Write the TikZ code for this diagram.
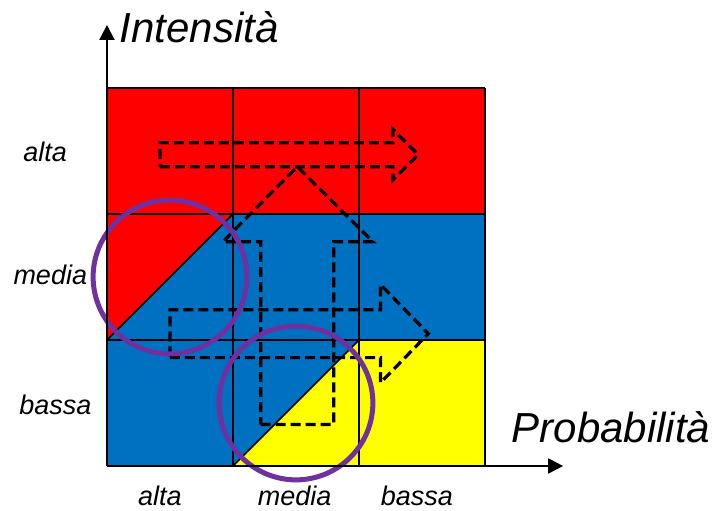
\documentclass[tikz,border=0pt]{standalone}
\usepackage{fontspec}
\setmainfont{Liberation Sans}
\usetikzlibrary{arrows.meta}
\definecolor{rred}{HTML}{FF0000}
\definecolor{rblue}{HTML}{0070C0}
\definecolor{ryellow}{HTML}{FFFF00}
\definecolor{rpurple}{HTML}{7030A0}

\begin{document}
\begin{tikzpicture}[x=126pt, y=126pt,
  lvl/.style={font=\fontsize{27}{30}\selectfont\itshape, anchor=base, inner sep=0pt},
  axlbl/.style={font=\fontsize{42}{46}\selectfont\itshape, anchor=base west, inner sep=0pt},
  dasharrow/.style={black, line width=3.2pt, dash pattern=on 10pt off 5pt},
  ring/.style={rpurple, line width=5pt}]
\useasboundingbox (-0.849,-0.357) rectangle (4.833,3.698);
% risk cells
\fill[rred] (0,2) rectangle (3,3);
\fill[rblue] (1,1) rectangle (3,2);
\fill[rred] (0,1) -- (0,2) -- (1,2) -- cycle;
\fill[rblue] (0,1) -- (1,1) -- (1,2) -- cycle;
\fill[rblue] (0,0) rectangle (1,1);
\fill[rblue] (1,0) -- (1,1) -- (2,1) -- cycle;
\fill[ryellow] (1,0) -- (2,0) -- (2,1) -- cycle;
\fill[ryellow] (2,0) rectangle (3,1);
% grid and split cells
\foreach \k in {0,...,3} {
  \draw[line width=1.5pt] (\k,0) -- (\k,3);
  \draw[line width=1.5pt] (0,\k) -- (3,\k);
}
\draw[line width=1.5pt] (0,1) -- (1,2) (1,0) -- (2,1);
% dashed block arrows
\draw[dasharrow] (0.42,2.375) -- (2.27,2.375) -- (2.27,2.27) -- (2.47,2.47)
   -- (2.27,2.67) -- (2.27,2.565) -- (0.42,2.565) -- cycle;
\draw[dasharrow] (1.22,0.33) -- (1.80,0.33) -- (1.80,1.78) -- (2.11,1.78)
   -- (1.51,2.375) -- (0.92,1.78) -- (1.22,1.78) -- cycle;
\draw[dasharrow] (0.50,0.86) -- (2.17,0.86) -- (2.17,0.66) -- (2.55,1.05)
   -- (2.17,1.44) -- (2.17,1.24) -- (0.50,1.24) -- cycle;
% highlighted cells
\draw[ring] (0.5,1.5) circle (0.61);
\draw[ring] (1.5,0.5) circle (0.61);
% axes
\coordinate (orig) at (0,0);
\coordinate (ytop) at (0,3.5);
\coordinate (xend) at (3.62,0);
\draw[line width=2pt, -{Triangle[length=15pt,width=15pt]}] (orig) -- (ytop);
\draw[line width=2pt, -{Triangle[length=15pt,width=15pt]}] (orig) -- (xend);
\node[axlbl] (intens) at (0.10,3.357) {Intensità};
\node[axlbl] (prob) at (3.21,0.183) {Probabilità};
% level labels
\node[lvl] (ialta) at (-0.49,2.42) {alta};
\node[lvl] (imedia) at (-0.45,1.437) {media};
\node[lvl] (ibassa) at (-0.41,0.405) {bassa};
\node[lvl] (palta) at (0.42,-0.31) {alta};
\node[lvl] (pmedia) at (1.49,-0.31) {media};
\node[lvl] (pbassa) at (2.46,-0.31) {bassa};
\end{tikzpicture}
\end{document}
